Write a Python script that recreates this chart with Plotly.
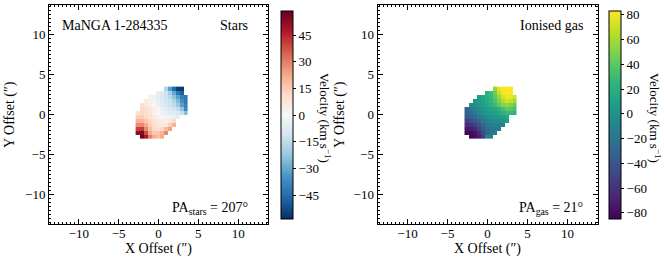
import plotly.graph_objects as go
import plotly.colors as pc

W, H = 664, 265

# ---------------- data ----------------
# spaxel centres (arcsec)
x_centres = [-2.625, -2.125, -1.625, -1.125, -0.625, -0.125, 0.375,
             0.875, 1.375, 1.875, 2.375, 2.875, 3.375]
y_centres_top_down = [3.25, 2.75, 2.25, 1.75, 1.25, 0.75, 0.25,
                      -0.25, -0.75, -1.25, -1.75, -2.25, -2.75]

# stellar velocity rows (top to bottom): first filled column index, values
stars_first_col = [7, 5, 3, 2, 1, 1, 0, 0, 0, 0, 0, 0, 1]
stars_values = [
    [-18, -32, -45, -55, -56],
    [-5, -8, -12, -20, -30, -42, -48],
    [2, -3, -6, -9, -12, -16, -24, -32, -40, -42],
    [6, 3, -2, -5, -8, -11, -13, -18, -26, -36, -42],
    [9, 7, 4, 0, -4, -7, -10, -12, -15, -22, -32, -40],
    [12, 10, 7, 3, 0, -4, -7, -9, -11, -15, -24, -38],
    [8, 12, 10, 7, 3, 0, -3, -5, -7, -8, -10, -14, -25],
    [14, 15, 12, 9, 6, 3, 1, -2, -3, -4, -6],
    [20, 20, 16, 12, 8, 5, 4, 3, 6, 12],
    [28, 28, 22, 14, 10, 7, 6, 8, 14, 20],
    [40, 42, 28, 18, 12, 10, 12, 18, 24],
    [52, 54, 38, 22, 16, 16, 20, 28],
    [57, 48, 30, 22, 18, 22],
]

# ionised gas velocity rows (top to bottom)
gas_first_col = [7, 5, 3, 2, 1, 0, 0, 0, 0, 0, 0, 0, 1]
gas_values = [
    [55, 76, 82, 83, 82],
    [22, 30, 45, 68, 80, 83, 82],
    [8, 14, 20, 28, 40, 55, 72, 80, 78, 70],
    [2, 6, 12, 18, 26, 36, 48, 62, 72, 68, 58],
    [-4, -2, 3, 8, 14, 20, 28, 40, 52, 55, 50, 42],
    [-30, -20, -10, -4, 2, 8, 12, 16, 22, 32, 40, 38, 35],
    [-34, -26, -16, -8, -2, 4, 8, 10, 14, 22, 28, 26, 22],
    [-40, -34, -26, -18, -10, -4, 0, 4, 6, 10, 14],
    [-52, -46, -38, -28, -18, -10, -6, -4, -2, 2, 6],
    [-64, -60, -52, -40, -28, -18, -12, -10, -10, -14],
    [-76, -72, -64, -52, -36, -24, -18, -16, -18],
    [-82, -82, -76, -66, -48, -30, -20, -16],
    [-82, -80, -72, -55, -12, -10],
]

axis_ticks = [-10, -5, 0, 5, 10]
stars_cbar_ticks = [-45, -30, -15, 0, 15, 30, 45]
gas_cbar_ticks = [-80, -60, -40, -20, 0, 20, 40, 60, 80]
stars_range = (-58.5, 58.5)
gas_range = (-85, 83)
galaxy_name = "MaNGA 1-284335"
pa_stars = 207
pa_gas = 21


def build_grid(first_cols, rows):
    ncol = len(x_centres)
    grid = []
    for start, vals in zip(first_cols, rows):
        row = [None] * ncol
        for k, v in enumerate(vals):
            row[start + k] = v
        grid.append(row)
    return grid


stars_z = build_grid(stars_first_col, stars_values)
gas_z = build_grid(gas_first_col, gas_values)

# ---------------- styling ----------------
FONT = "Liberation Serif"
rdbu_r = pc.diverging.RdBu[::-1]
n = len(rdbu_r)
rdbu_scale = [[i / (n - 1), c] for i, c in enumerate(rdbu_r)]
vir = pc.sequential.Viridis
m = len(vir)
vir_scale = [[i / (m - 1), c] for i, c in enumerate(vir)]


def px_x(p):
    return p / W


def px_y(p):
    return 1 - p / H


fig = go.Figure()

cb_common = dict(
    thickness=11.5, thicknessmode="pixels",
    len=208 / H, lenmode="fraction",
    y=px_y(115), yanchor="middle",
    xanchor="left", xpad=0, ypad=0,
    outlinewidth=1, outlinecolor="black",
    ticks="outside", ticklen=3, tickcolor="black",
    tickfont=dict(family=FONT, size=13, color="black"),
)

fig.add_trace(go.Heatmap(
    x=x_centres, y=y_centres_top_down, z=stars_z,
    colorscale=rdbu_scale, zmin=stars_range[0], zmax=stars_range[1],
    xaxis="x", yaxis="y", hoverongaps=False,
    colorbar=dict(x=px_x(281), tickvals=stars_cbar_ticks, **cb_common),
))
fig.add_trace(go.Heatmap(
    x=x_centres, y=y_centres_top_down, z=gas_z,
    colorscale=vir_scale, zmin=gas_range[0], zmax=gas_range[1],
    xaxis="x2", yaxis="y2", hoverongaps=False,
    colorbar=dict(x=px_x(609), tickvals=gas_cbar_ticks, **cb_common),
))

ax_common = dict(
    range=[-13.75, 13.75], showgrid=False, zeroline=False,
    showline=True, linecolor="black", linewidth=1, mirror="ticks",
    ticks="inside", ticklen=5, tickcolor="black", tickwidth=1,
    tickvals=axis_ticks,
    tickfont=dict(family=FONT, size=13, color="black"),
    minor=dict(ticks="inside", ticklen=2, dtick=0.5, tick0=0, tickcolor="black"),
    fixedrange=True,
)

ydom = [px_y(224), px_y(5)]
fig.update_layout(
    width=W, height=H, autosize=False,
    margin=dict(l=0, r=0, t=0, b=0),
    paper_bgcolor="white", plot_bgcolor="white",
    font=dict(family=FONT, color="black"),
    xaxis=dict(domain=[px_x(49), px_x(268)], anchor="y", **ax_common),
    yaxis=dict(domain=ydom, anchor="x", **ax_common),
    xaxis2=dict(domain=[px_x(377.5), px_x(597.5)], anchor="y2", **ax_common),
    yaxis2=dict(domain=ydom, anchor="x2", **ax_common),
    showlegend=False,
)
fig.update_xaxes(ticklabelstandoff=-3)


def ann(text, x, y, size=14, xanchor="center", yanchor="middle", angle=0):
    fig.add_annotation(
        text=text, x=px_x(x), y=px_y(y), xref="paper", yref="paper",
        xanchor=xanchor, yanchor=yanchor, textangle=angle, showarrow=False,
        font=dict(family=FONT, size=size, color="black"),
    )


ann(galaxy_name, 60, 26, xanchor="left")
ann("Stars", 250, 26, xanchor="right")
ann(f"PA<sub>stars</sub> = {pa_stars}°", 250, 208, xanchor="right")
ann("Ionised gas", 585, 26, xanchor="right")
ann(f"PA<sub>gas</sub> = {pa_gas}°", 585, 208, xanchor="right")
ann("X Offset (″)", 158, 249)
ann("X Offset (″)", 487, 249)
ann("Y Offset (″)", 10, 115, angle=-90)
ann("Y Offset (″)", 340, 115, angle=-90)
ann("Velocity (km s<sup>−1</sup>)", 325, 118, size=13, angle=90)
ann("Velocity (km s<sup>−1</sup>)", 655, 118, size=13, angle=90)

fig.write_html(
    "out.html",
    config={"displayModeBar": False},
    post_script="document.body.style.margin='0';document.body.style.padding='0';",
)
